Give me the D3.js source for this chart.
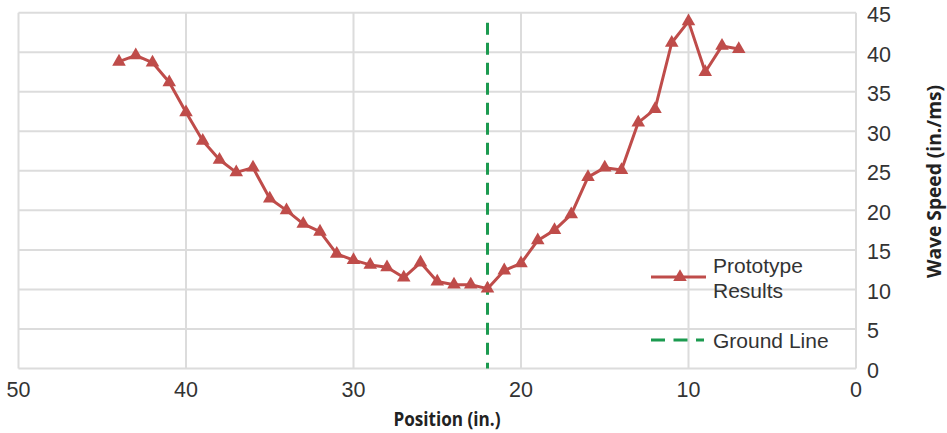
<!DOCTYPE html>
<html>
<head>
<script src="https://d3js.org/d3.v7.min.js"></script>
<style>
  html, body { margin: 0; padding: 0; background: #fff; }
  svg { display: block; }
  .tick-label { font-family: "Liberation Sans", Arial, sans-serif; font-size: 21.5px; fill: #333; }
  .axis-title { font-family: "Open Sans", "Liberation Sans", sans-serif; font-size: 20px; font-weight: 700; fill: #222; }
  .legend-text { font-family: "Liberation Sans", Arial, sans-serif; font-size: 21px; fill: #333; }
  .grid { stroke: #dcdcdc; stroke-width: 2px; }
</style>
</head>
<body>
<svg width="947" height="433"></svg>
<script>
// position (in.) for each measured point
const positions = [44, 43, 42, 41, 40, 39, 38, 37, 36, 35, 34, 33, 32, 31, 30, 29, 28, 27, 26,
                   25, 24, 23, 22, 21, 20, 19, 18, 17, 16, 15, 14, 13, 12, 11, 10, 9, 8, 7];
// wave speed (in./ms)
const speeds = [38.8, 39.6, 38.7, 36.2, 32.4, 28.8, 26.4, 24.8, 25.4, 21.5, 20.0, 18.3, 17.3, 14.5,
                13.7, 13.1, 12.8, 11.5, 13.4, 11.0, 10.6, 10.6, 10.1, 12.4, 13.3, 16.2, 17.5, 19.5,
                24.2, 25.4, 25.1, 31.1, 32.8, 41.2, 43.9, 37.5, 40.8, 40.4];
const groundLine = 22;
const xTicks = [50, 40, 30, 20, 10, 0];
const yTicks = [0, 5, 10, 15, 20, 25, 30, 35, 40, 45];

const svg = d3.select('svg');
const plotLeft = 18.5, plotRight = 856, plotTop = 12.7, plotBottom = 368.5;

const x = d3.scaleLinear().domain([50, 0]).range([plotLeft, plotRight]);
const y = d3.scaleLinear().domain([0, 45]).range([plotBottom, plotTop]);

// grid
svg.selectAll('line.hgrid')
   .data(yTicks)
   .join('line')
   .attr('class', 'grid hgrid')
   .attr('x1', plotLeft).attr('x2', plotRight)
   .attr('y1', d => y(d)).attr('y2', d => y(d));

svg.selectAll('line.vgrid')
   .data(xTicks)
   .join('line')
   .attr('class', 'grid vgrid')
   .attr('x1', d => x(d)).attr('x2', d => x(d))
   .attr('y1', plotTop).attr('y2', plotBottom);

// tick labels
svg.selectAll('text.xtick')
   .data(xTicks)
   .join('text')
   .attr('class', 'tick-label xtick')
   .attr('x', d => x(d))
   .attr('y', 396.5)
   .attr('text-anchor', 'middle')
   .text(d => d);

svg.selectAll('text.ytick')
   .data(yTicks)
   .join('text')
   .attr('class', 'tick-label ytick')
   .attr('x', 867)
   .attr('y', d => y(d) + 9.5)
   .text(d => d);

// axis titles (the original uses a narrower bold face, so squeeze a bit)
svg.append('text')
   .attr('class', 'axis-title')
   .attr('x', 447).attr('y', 426)
   .attr('text-anchor', 'middle')
   .attr('textLength', 107)
   .attr('lengthAdjust', 'spacingAndGlyphs')
   .text('Position (in.)');

svg.append('text')
   .attr('class', 'axis-title')
   .attr('transform', 'translate(941,181.5) rotate(-90)')
   .attr('text-anchor', 'middle')
   .attr('textLength', 193)
   .attr('lengthAdjust', 'spacingAndGlyphs')
   .text('Wave Speed (in./ms)');

// ground line
svg.append('line')
   .attr('x1', x(groundLine)).attr('x2', x(groundLine))
   .attr('y1', plotTop + 10).attr('y2', plotBottom)
   .attr('stroke', '#1b9a4f')
   .attr('stroke-width', 3)
   .attr('stroke-dasharray', '12,8');

// data series
const data = positions.map((p, i) => ({ p: p, v: speeds[i] }));
const red = '#bf4c4a';

svg.append('path')
   .datum(data)
   .attr('fill', 'none')
   .attr('stroke', red)
   .attr('stroke-width', 3)
   .attr('stroke-linejoin', 'round')
   .attr('d', d3.line().x(d => x(d.p)).y(d => y(d.v)));

const tri = d3.symbol().type(d3.symbolTriangle).size(80);
svg.selectAll('path.marker')
   .data(data)
   .join('path')
   .attr('class', 'marker')
   .attr('d', tri)
   .attr('fill', red)
   .attr('transform', d => `translate(${x(d.p)},${y(d.v)})`);

// legend
svg.append('line')
   .attr('x1', 651).attr('x2', 706)
   .attr('y1', 277).attr('y2', 277)
   .attr('stroke', red).attr('stroke-width', 3);
svg.append('path')
   .attr('d', tri)
   .attr('fill', red)
   .attr('transform', 'translate(680,277)');
svg.append('text').attr('class', 'legend-text').attr('x', 713).attr('y', 273).text('Prototype');
svg.append('text').attr('class', 'legend-text').attr('x', 713).attr('y', 298).text('Results');

svg.append('line')
   .attr('x1', 651).attr('x2', 704)
   .attr('y1', 340).attr('y2', 340)
   .attr('stroke', '#1b9a4f').attr('stroke-width', 3)
   .attr('stroke-dasharray', '14,8.5');
svg.append('text').attr('class', 'legend-text').attr('x', 713).attr('y', 348).text('Ground Line');
</script>
</body>
</html>
